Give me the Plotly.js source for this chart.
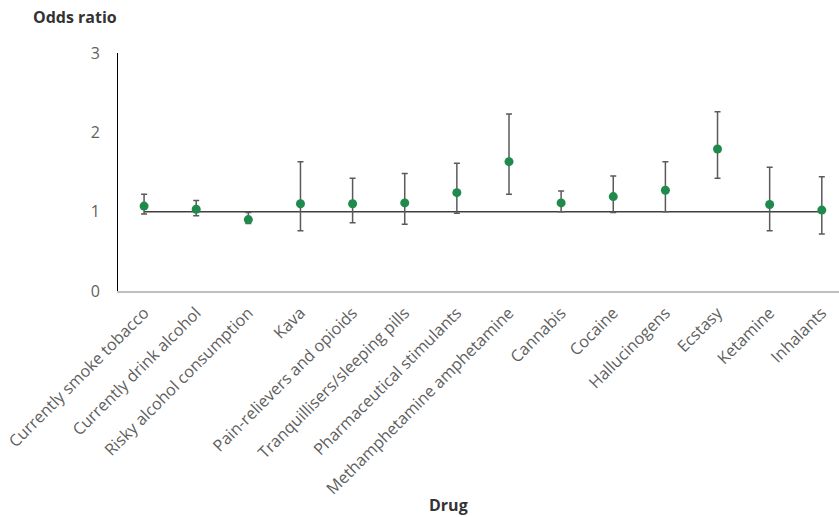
<!DOCTYPE html>
<html>
<head>
<meta charset="utf-8">
<script src="https://cdn.plot.ly/plotly-3.0.1.min.js"></script>
<style>html,body{margin:0;padding:0;background:#fff;}#chart{width:839px;height:517px;}</style>
</head>
<body>
<div id="chart"></div>
<script>
var drugs = ["Currently smoke tobacco", "Currently drink alcohol", "Risky alcohol consumption", "Kava",
  "Pain-relievers and opioids", "Tranquillisers/sleeping pills", "Pharmaceutical stimulants",
  "Methamphetamine amphetamine", "Cannabis", "Cocaine", "Hallucinogens", "Ecstasy", "Ketamine", "Inhalants"];
var oddsRatio = [1.07, 1.03, 0.90, 1.10, 1.10, 1.11, 1.24, 1.63, 1.11, 1.19, 1.27, 1.79, 1.09, 1.02];
var ciUpper   = [1.22, 1.14, 0.99, 1.63, 1.42, 1.48, 1.61, 2.23, 1.26, 1.45, 1.63, 2.26, 1.56, 1.44];
var ciLower   = [0.97, 0.95, 0.85, 0.76, 0.86, 0.84, 0.98, 1.22, 1.00, 0.99, 1.00, 1.42, 0.76, 0.72];
var referenceValue = 1;
var yTickVals = [0, 1, 2, 3];

var errPlus = oddsRatio.map(function (v, i) { return ciUpper[i] - v; });
var errMinus = oddsRatio.map(function (v, i) { return v - ciLower[i]; });

var refLine = {
  type: "scatter", mode: "lines",
  x: [drugs[0], drugs[drugs.length - 1]],
  y: [referenceValue, referenceValue],
  line: { color: "#404040", width: 1.5 },
  hoverinfo: "skip", showlegend: false
};
var points = {
  type: "scatter", mode: "markers",
  x: drugs, y: oddsRatio,
  marker: { color: "#1f8a4c", size: 9 },
  error_y: { type: "data", symmetric: false, array: errPlus, arrayminus: errMinus,
    color: "#5a5a5a", thickness: 1.5, width: 3 },
  showlegend: false
};

var layout = {
  width: 839, height: 517,
  margin: { l: 118, r: 0, t: 53, b: 226 },
  paper_bgcolor: "#ffffff", plot_bgcolor: "#ffffff",
  font: { family: "Open Sans, sans-serif", color: "#595959" },
  title: { text: "<b>Odds ratio</b>", xref: "container", yref: "container",
    x: 33 / 839, xanchor: "left", y: 1 - 17 / 517, yanchor: "middle",
    font: { family: "Open Sans, sans-serif", size: 16, color: "#333333" } },
  xaxis: {
    type: "category", categoryorder: "array", categoryarray: drugs,
    range: [-0.5, 13.33],
    showline: true, linecolor: "#bfbfbf", linewidth: 2,
    showgrid: false, zeroline: false, ticks: "",
    ticklabelstandoff: 4,
    tickangle: -45, tickfont: { size: 16.3, color: "#5f5f5f" }
  },
  yaxis: {
    range: [0, 3], tickvals: yTickVals,
    showline: true, linecolor: "#000000", linewidth: 1,
    showgrid: false, zeroline: false, ticks: "",
    ticklabelstandoff: 14,
    tickfont: { size: 16, color: "#5f5f5f" }
  },
  annotations: [{
    text: "<b>Drug</b>", xref: "paper", yref: "paper",
    x: (448 - 118) / (839 - 118), y: (291 - 505) / 238,
    xanchor: "center", yanchor: "middle", showarrow: false,
    font: { family: "Open Sans, sans-serif", size: 16, color: "#333333" }
  }]
};

Plotly.newPlot("chart", [refLine, points], layout, { displayModeBar: false, staticPlot: true });
</script>
</body>
</html>
